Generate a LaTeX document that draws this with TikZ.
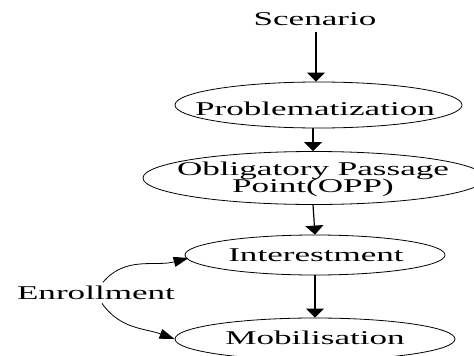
\documentclass[tikz,border=0pt]{standalone}
\usepackage{fontspec}
\setmainfont{Liberation Serif}
\usepackage{graphicx}
\usetikzlibrary{arrows.meta,shapes.geometric}
% wide lettering used throughout the chart
\newcommand\widetext[1]{\scalebox{1.8}[1]{#1}}
\begin{document}
\begin{tikzpicture}[x=1pt,y=-1pt,
  oval/.style={draw, ellipse, line width=0.8pt, inner sep=0pt},
  word/.style={inner sep=0pt, anchor=base, font=\fontsize{19.5}{22}\selectfont},
  flow/.style={line width=1.2pt, -{Triangle[width=18pt,length=9pt]}},
  side/.style={line width=0.8pt, -{Triangle[width=10pt,length=15pt]}}]
\useasboundingbox (0,0) rectangle (474,356);
\clip (0,0) rectangle (474,356);

% stages
\node[oval, minimum width=287pt, minimum height=46pt] (prob) at (318.5,105) {};
\node[oval, minimum width=342pt, minimum height=53pt] (opp)  at (314,178) {};
\node[oval, minimum width=260pt, minimum height=40pt] (int)  at (315,255) {};
\node[oval, minimum width=280pt, minimum height=42pt] (mob)  at (315,339) {};

% labels
\node[word] (scen)    at (315,25)    {\widetext{Scenario}};
\node[word] (probtxt) at (315,115)   {\widetext{Problematization}};
\node[word] (oppA)    at (313,175)   {\widetext{Obligatory Passage}};
\node[word] (oppB)    at (313,192.5) {\widetext{Point(OPP)}};
\node[word] (inttxt)  at (316,261)   {\widetext{Interestment}};
\node[word] (mobtxt)  at (315,344)   {\widetext{Mobilisation}};
\node[word] (enr)     at (96,299)    {\widetext{Enrollment}};

% main flow
\coordinate (scenfoot) at ([xshift=1pt,yshift=-7pt]scen.south);
\draw[flow] (scenfoot) -- (prob.north -| scenfoot);
\draw[flow] (prob.south -| oppA.base) -- (opp.north -| oppA.base);
\draw[flow] (opp.south -| oppB.base) -- (int.north);
\draw[flow] (int.south) -- (mob.north);

% enrollment links
\draw[side] ([xshift=7pt,yshift=3pt]enr.north) to[out=50,in=195] ([xshift=4pt,yshift=-3pt]int.west);
\draw[side] ([xshift=6pt,yshift=-4pt]enr.south) to[out=-55,in=160] (mob.west);
\end{tikzpicture}
\end{document}
